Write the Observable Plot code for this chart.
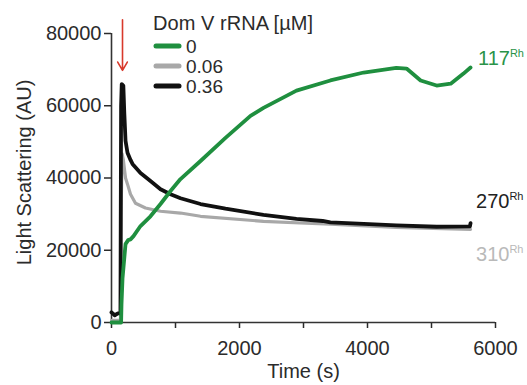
<!DOCTYPE html>
<html>
<head>
<meta charset="utf-8">
<script src="https://cdn.jsdelivr.net/npm/d3@7"></script>
<script src="https://cdn.jsdelivr.net/npm/@observablehq/plot@0.6"></script>
<style>
  html, body { margin: 0; padding: 0; background: #fff; }
  #chart { width: 527px; height: 385px; overflow: hidden; }
</style>
</head>
<body>
<div id="chart"></div>
<script>
// ---- data ----
const seriesNames = ["0", "0.06", "0.36"];
const seriesColors = ["#1f8f3f", "#a8a8a8", "#111111"];
const endLabels = ["117", "310", "270"];
const endLabelColors = ["#2a9348", "#b9b9b9", "#222222"];
const endLabelY = [71100, 16900, 31600];

// 0 µM (green)
const t0 = [0, 60, 150, 156, 172, 219, 260, 297, 344, 453, 609, 766, 922, 1078, 1391, 1781, 2172, 2375, 2890, 3420, 3940, 4450, 4610, 4830, 5080, 5300, 5500, 5610];
const v0 = [0, 0, 0, 5000, 12200, 21700, 22800, 23000, 23900, 26700, 29400, 32800, 36400, 39700, 44700, 51100, 57200, 59400, 64200, 67000, 69200, 70500, 70300, 67000, 65600, 66100, 68900, 70600];

// 0.06 µM (gray)
const t1 = [0, 140, 150, 165, 185, 219, 250, 297, 375, 531, 766, 1078, 1391, 2375, 3420, 4450, 5610];
const v1 = [600, 600, 30000, 46700, 45000, 40000, 38300, 35500, 33000, 31700, 30800, 30300, 29400, 28000, 27200, 26300, 25800];

// 0.36 µM (black)
const t2 = [0, 50, 100, 140, 150, 160, 185, 200, 219, 250, 297, 328, 453, 609, 766, 922, 1078, 1391, 1781, 2375, 2890, 3300, 3420, 3940, 4450, 5080, 5600, 5610];
const v2 = [2800, 2000, 2500, 2500, 60000, 66000, 65500, 58000, 50300, 47000, 45000, 43900, 41400, 39200, 36900, 35500, 34400, 32800, 31500, 29800, 28700, 28100, 27700, 27300, 26900, 26500, 26600, 27500];

const yTicks = [0, 20000, 40000, 60000, 80000];
const xTicks = [0, 1000, 2000, 3000, 4000, 5000, 6000];
const xTickLabels = [0, 2000, 4000, 6000];

const legendTitle = "Dom V rRNA [\u00b5M]";
const xTitle = "Time (s)";
const yTitle = "Light Scattering (AU)";

// addition marker (red arrow)
const arrowData = [{t: 172, from: 83800, to: 69800}];

// ---- build table ----
const times = [t0, t1, t2];
const vals = [v0, v1, v2];
const rows = [];
seriesNames.forEach((s, i) => times[i].forEach((t, j) => rows.push({s, t, v: vals[i][j]})));

const font = "'Liberation Sans', Arial, sans-serif";
const fs = 20;

const plot = Plot.plot({
  width: 527,
  height: 385,
  marginLeft: 111,
  marginRight: 32,
  marginTop: 33,
  marginBottom: 63,
  x: {domain: [0, 6000]},
  y: {domain: [0, 80000]},
  color: {domain: seriesNames, range: seriesColors},
  style: {fontFamily: font, fontSize: fs + "px", color: "#2b2b2b", background: "white", overflow: "visible"},
  marks: [
    Plot.axisY({ticks: yTicks, tickFormat: d => String(d), tickSize: 7, tickPadding: 3, label: null, strokeWidth: 1.5}),
    Plot.axisX({ticks: xTicks, tickFormat: d => xTickLabels.includes(d) ? String(d) : "", tickSize: 6, tickPadding: 12, label: null, strokeWidth: 1.5}),
    Plot.ruleX([0], {stroke: "#333", strokeWidth: 1.6}),
    Plot.ruleY([0], {stroke: "#333", strokeWidth: 1.6}),
    Plot.line(rows.filter(d => d.s === "0.06"), {x: "t", y: "v", stroke: "s", strokeWidth: 3.2, strokeLinejoin: "round"}),
    Plot.line(rows.filter(d => d.s === "0.36"), {x: "t", y: "v", stroke: "s", strokeWidth: 3.8, strokeLinejoin: "round"}),
    Plot.line(rows.filter(d => d.s === "0"), {x: "t", y: "v", stroke: "s", strokeWidth: 3.8, strokeLinejoin: "round"}),
    Plot.arrow(arrowData, {x1: "t", y1: "from", x2: "t", y2: "to", stroke: "#d8392b", strokeWidth: 1.6, headLength: 9}),
    Plot.text([xTitle], {text: d => d, frameAnchor: "bottom", dy: 55, fontSize: fs, fill: "#2b2b2b"})
  ]
});

document.getElementById("chart").appendChild(plot);

// ---- y title, legend and end labels ----
const svg = d3.select(plot);
const xs = plot.scale("x"), ys = plot.scale("y");

svg.append("text")
  .attr("transform", `translate(31,${(33 + 322) / 2 - 5}) rotate(-90)`)
  .attr("text-anchor", "middle")
  .attr("font-family", font).attr("font-size", fs).attr("fill", "#2b2b2b")
  .text(yTitle);

const lg = svg.append("g").attr("font-family", font).attr("font-size", 19).attr("fill", "#2b2b2b").attr("text-anchor", "start");
lg.append("text").attr("x", 153).attr("y", 30).attr("font-size", fs).attr("textLength", 160).text(legendTitle);
seriesNames.forEach((s, i) => {
  lg.append("line").attr("x1", 156).attr("x2", 179).attr("y1", 46 + 20 * i).attr("y2", 46 + 20 * i)
    .attr("stroke", seriesColors[i]).attr("stroke-width", 5).attr("stroke-linecap", "round");
  lg.append("text").attr("x", 186).attr("y", 53 + 20 * i).text(s);
});

const lastT = Math.max(...t0);
const el = svg.append("g").attr("font-family", font).attr("text-anchor", "start");
endLabels.forEach((lab, i) => {
  const tx = el.append("text").attr("x", xs.apply(lastT) + 6 + (i === 0 ? 2 : 0)).attr("y", ys.apply(endLabelY[i]))
    .attr("fill", endLabelColors[i]).attr("font-size", fs);
  tx.append("tspan").text(lab);
  tx.append("tspan").attr("font-size", 11).attr("dy", -8).text("Rh");
});
</script>
</body>
</html>
